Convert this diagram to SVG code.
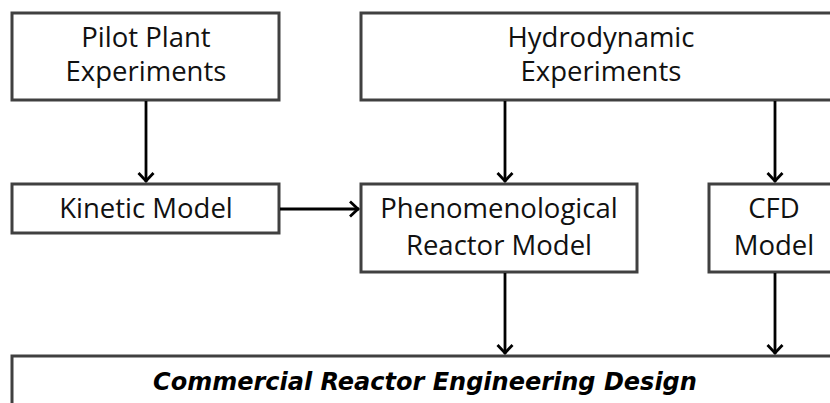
<svg xmlns="http://www.w3.org/2000/svg" width="830" height="403" viewBox="0 0 830 403">
<style>
.box{fill:#fff;stroke:#404040;stroke-width:3}
.lbl{font-family:"Open Sans","Noto Sans",sans-serif;font-size:27.5px;fill:#111;text-anchor:middle}
.big{font-family:"DejaVu Sans","Open Sans",sans-serif;font-size:24px;font-weight:bold;font-style:italic;fill:#000;text-anchor:middle}
.edge{stroke:#000;stroke-width:2.8;fill:none;marker-end:url(#arr)}
</style>
<defs>
<marker id="arr" markerUnits="userSpaceOnUse" viewBox="0 0 14 20" markerWidth="14" markerHeight="20" refX="12" refY="10" orient="auto">
<path d="M3,2.5 L11,10 L3,17.5" fill="none" stroke="#000" stroke-width="2.8"/>
</marker>
</defs>
<rect width="830" height="403" fill="#fff"/>
<g id="pilot">
<rect class="box" x="12" y="13" width="267" height="87"/>
<text class="lbl" x="146" y="47">Pilot Plant<tspan x="146" y="81">Experiments</tspan></text>
</g>
<g id="hydro">
<rect class="box" x="361" y="13" width="480" height="87"/>
<text class="lbl" x="601" y="47">Hydrodynamic<tspan x="601" y="81">Experiments</tspan></text>
</g>
<g id="kinetic">
<rect class="box" x="12" y="184" width="267" height="49"/>
<text class="lbl" x="146" y="218">Kinetic Model</text>
</g>
<g id="phenom">
<rect class="box" x="361" y="184" width="276" height="88"/>
<text class="lbl" x="499" y="218">Phenomenological<tspan x="499" y="255">Reactor Model</tspan></text>
</g>
<g id="cfd">
<rect class="box" x="709" y="184" width="132" height="88"/>
<text class="lbl" x="774" y="218">CFD<tspan x="774" y="255">Model</tspan></text>
</g>
<g id="design">
<rect class="box" x="12" y="356" width="828" height="60"/>
<text class="big" x="425" y="390">Commercial Reactor Engineering Design</text>
</g>
<g id="connectors">
<line class="edge" x1="146" y1="101" x2="146" y2="182"/>
<line class="edge" x1="505" y1="101" x2="505" y2="182"/>
<line class="edge" x1="775" y1="101" x2="775" y2="182"/>
<line class="edge" x1="280" y1="209" x2="359" y2="209"/>
<line class="edge" x1="505" y1="273" x2="505" y2="354"/>
<line class="edge" x1="775" y1="273" x2="775" y2="354"/>
</g>
</svg>
